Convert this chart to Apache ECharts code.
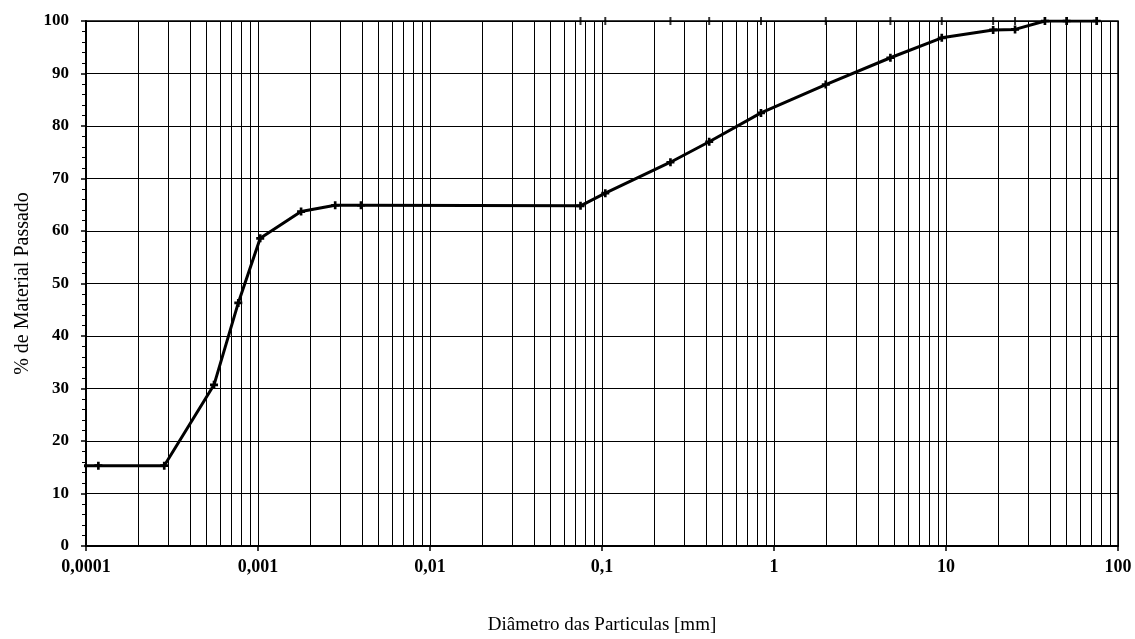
<!DOCTYPE html>
<html><head><meta charset="utf-8">
<script src="https://cdn.jsdelivr.net/npm/echarts@6/dist/echarts.min.js"></script>
<style>html,body{margin:0;padding:0;background:#fff}#c{width:1135px;height:639px}</style>
</head><body><div id="c"></div>
<script>
// Data
const diameters = [0.00009, 0.000118, 0.000285, 0.000555, 0.000768, 0.00103, 0.00178, 0.00281, 0.00397,
  0.075, 0.1045, 0.25, 0.42, 0.84, 2.0, 4.75, 9.45, 18.8, 25.2, 37.6, 50.3, 75.2];
const passing = [15.3, 15.3, 15.3, 30.7, 46.3, 58.6, 63.7, 64.9, 64.9,
  64.8, 67.2, 73.1, 77.0, 82.5, 87.9, 93.0, 96.8, 98.3, 98.4, 100, 100, 100];
const sieveSizes = [0.075, 0.1045, 0.25, 0.42, 0.84, 2.0, 4.75, 9.45, 18.8, 25.2, 37.6, 50.3, 75.2];
const decades = [0.0001, 0.001, 0.01, 0.1, 1, 10];
const minorSteps = [2, 3, 4, 5, 6, 7, 8, 9];
const xTitle = 'Diâmetro das Particulas [mm]';
const yTitle = '% de Material Passado';

const minorValues = [];
decades.forEach(d => minorSteps.forEach(m => minorValues.push(parseFloat((d * m).toPrecision(6)))));

const serif = 'Liberation Serif, Times New Roman, serif';
const chart = echarts.init(document.getElementById('c'), null, { renderer: 'canvas' });
chart.setOption({
  animation: false,
  grid: { left: 86, right: 17, top: 21, bottom: 93, show: true, borderColor: '#000', borderWidth: 1.5,
    containLabel: false, outerBoundsMode: 'none' },
  xAxis: {
    type: 'log', min: 0.0001, max: 100, logBase: 10,
    name: xTitle, nameLocation: 'middle', nameGap: 70,
    nameTextStyle: { fontFamily: serif, fontSize: 19, color: '#000' },
    axisLine: { show: true, onZero: false, lineStyle: { color: '#000', width: 2 } },
    axisTick: { show: true, length: 5, lineStyle: { color: '#000', width: 1.5 } },
    axisLabel: { fontFamily: serif, fontWeight: 'bold', fontSize: 18, color: '#000', margin: 12,
      formatter: v => String(parseFloat(v.toPrecision(6))).replace('.', ',') },
    splitLine: { show: true, lineStyle: { color: '#000', width: 1 } }
  },
  yAxis: {
    type: 'value', min: 0, max: 100, interval: 10,
    name: yTitle, nameLocation: 'middle', nameGap: 53, nameRotate: 90,
    nameTextStyle: { fontFamily: serif, fontSize: 20, color: '#000' },
    axisLine: { show: true, lineStyle: { color: '#000', width: 2 } },
    axisTick: { show: true, length: 5, lineStyle: { color: '#000', width: 1.5 } },
    minorTick: { show: true, splitNumber: 5, length: 4, lineStyle: { color: '#000', width: 1 } },
    axisLabel: { fontFamily: serif, fontWeight: 'bold', fontSize: 17, color: '#000', margin: 17 },
    splitLine: { show: true, lineStyle: { color: '#000', width: 1 } }
  },
  series: [
    {
      type: 'custom', silent: true, z: 1, clip: true,
      data: minorValues.map(v => [v]),
      encode: { x: 0 },
      renderItem: (params, api) => {
        const v = api.value(0);
        const p0 = api.coord([v, 0]);
        const p1 = api.coord([v, 100]);
        const x = Math.round(p0[0]) + 0.5;
        return { type: 'line', shape: { x1: x, y1: p0[1], x2: x, y2: p1[1] },
          style: { stroke: '#000', lineWidth: 1 } };
      }
    },
    {
      type: 'line', data: diameters.map((d, i) => [d, passing[i]]),
      clip: true, z: 5,
      lineStyle: { color: '#000', width: 3 },
      itemStyle: { color: '#000' },
      symbol: 'path://M2,0H4V2H6V4H4V6H2V4H0V2H2Z', symbolSize: 8, showSymbol: true
    },
    {
      type: 'scatter', data: sieveSizes.map(d => [d, 100]), clip: false, z: 4,
      symbol: 'rect', symbolSize: [2, 8], itemStyle: { color: '#000' }
    }
  ]
});
</script></body></html>
